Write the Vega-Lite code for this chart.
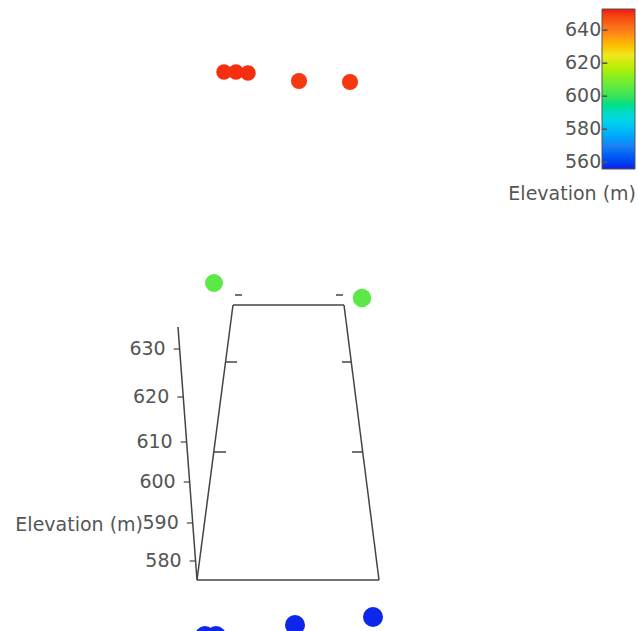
{
  "$schema": "https://vega.github.io/schema/vega-lite/v6.json",
  "width": 638,
  "height": 631,
  "padding": 0,
  "autosize": {"type": "none"},
  "background": "white",
  "config": {"view": {"stroke": null}, "font": "DejaVu Sans"},
  "datasets": {
    "points": [
      {"elevation": 651, "sx": 224, "sy": 72, "y_depth": 10},
      {"elevation": 651, "sx": 236, "sy": 72, "y_depth": 10},
      {"elevation": 651, "sx": 248, "sy": 73, "y_depth": 10},
      {"elevation": 650, "sx": 299, "sy": 81, "y_depth": 9},
      {"elevation": 650, "sx": 350, "sy": 82, "y_depth": 9},
      {"elevation": 605, "sx": 214, "sy": 283, "y_depth": 6},
      {"elevation": 605, "sx": 362, "sy": 298, "y_depth": 5},
      {"elevation": 557, "sx": 205, "sy": 636, "y_depth": 2},
      {"elevation": 557, "sx": 216, "sy": 636, "y_depth": 2},
      {"elevation": 557, "sx": 295, "sy": 625, "y_depth": 2},
      {"elevation": 557, "sx": 373, "sy": 617, "y_depth": 2}
    ],
    "frame": [
      {"part": "top", "sx": 233, "sy": 305, "sx2": 344, "sy2": 305},
      {"part": "left", "sx": 233, "sy": 305, "sx2": 197, "sy2": 580},
      {"part": "right", "sx": 344, "sy": 305, "sx2": 379, "sy2": 580},
      {"part": "bottom", "sx": 197, "sy": 580, "sx2": 379, "sy2": 580},
      {"part": "axis", "sx": 178, "sy": 327, "sx2": 197, "sy2": 580},
      {"part": "tick", "sx": 225.5, "sy": 362, "sx2": 237, "sy2": 362},
      {"part": "tick", "sx": 213.8, "sy": 452, "sx2": 226, "sy2": 452},
      {"part": "tick", "sx": 351.3, "sy": 362, "sx2": 342, "sy2": 362},
      {"part": "tick", "sx": 362.7, "sy": 452, "sx2": 352, "sy2": 452},
      {"part": "tick", "sx": 235, "sy": 295, "sx2": 242, "sy2": 295},
      {"part": "tick", "sx": 336, "sy": 295, "sx2": 343, "sy2": 295}
    ],
    "axisTicks": [
      {"label": "630", "sx": 179.7, "sy": 349},
      {"label": "620", "sx": 183.3, "sy": 397},
      {"label": "610", "sx": 186.7, "sy": 442},
      {"label": "600", "sx": 189.7, "sy": 482},
      {"label": "590", "sx": 192.8, "sy": 523},
      {"label": "580", "sx": 195.6, "sy": 561}
    ],
    "axisTitle": [
      {"label": "Elevation (m)", "sx": 143, "sy": 525}
    ]
  },
  "layer": [
    {
      "data": {"name": "frame"},
      "mark": {"type": "rule", "color": "#444444", "strokeWidth": 1.5},
      "encoding": {
        "x": {"field": "sx", "type": "quantitative", "scale": {"domain": [0, 638], "nice": false, "zero": false}, "axis": null},
        "y": {"field": "sy", "type": "quantitative", "scale": {"domain": [0, 631], "nice": false, "zero": false, "reverse": true}, "axis": null},
        "x2": {"field": "sx2"},
        "y2": {"field": "sy2"}
      }
    },
    {
      "data": {"name": "axisTicks"},
      "mark": {"type": "rule", "color": "#444444", "strokeWidth": 1.2, "x2Offset": -6},
      "encoding": {
        "x": {"field": "sx", "type": "quantitative"},
        "x2": {"field": "sx"},
        "y": {"field": "sy", "type": "quantitative"}
      }
    },
    {
      "data": {"name": "axisTicks"},
      "mark": {"type": "text", "align": "right", "baseline": "middle", "dx": -14, "fontSize": 19, "font": "DejaVu Sans", "color": "#555555"},
      "encoding": {
        "x": {"field": "sx", "type": "quantitative"},
        "y": {"field": "sy", "type": "quantitative"},
        "text": {"field": "label"}
      }
    },
    {
      "data": {"name": "axisTitle"},
      "mark": {"type": "text", "align": "right", "baseline": "middle", "fontSize": 19, "font": "DejaVu Sans", "color": "#555555"},
      "encoding": {
        "x": {"field": "sx", "type": "quantitative"},
        "y": {"field": "sy", "type": "quantitative"},
        "text": {"field": "label"}
      }
    },
    {
      "data": {"name": "points"},
      "mark": {"type": "circle", "opacity": 1},
      "encoding": {
        "x": {"field": "sx", "type": "quantitative"},
        "y": {"field": "sy", "type": "quantitative"},
        "size": {"field": "y_depth", "type": "quantitative", "scale": {"domain": [2, 10], "range": [400, 240]}, "legend": null},
        "color": {
          "field": "elevation",
          "type": "quantitative",
          "scale": {
            "domain": [556, 653],
            "range": ["#1a1ae8", "#2080f5", "#10d0f0", "#20e060", "#80f020", "#f0e820", "#ff8020", "#f01010"]
          },
          "legend": {
            "title": "Elevation (m)",
            "orient": "none",
            "legendX": 508,
            "legendY": 9,
            "direction": "vertical",
            "gradientLength": 160,
            "gradientThickness": 33,
            "gradientStrokeColor": "#555555",
            "gradientStrokeWidth": 1,
            "values": [560, 580, 600, 620, 640],
            "labelExpr": "datum.label + '-'",
            "labelFont": "DejaVu Sans",
            "labelFontSize": 19,
            "labelColor": "#555555",
            "labelOffset": -70,
            "labelAlign": "right",
            "titleOrient": "bottom",
            "titleAnchor": "end",
            "titleAlign": "right",
            "titleFont": "DejaVu Sans",
            "titleFontSize": 19,
            "titleFontWeight": "normal",
            "titleColor": "#555555",
            "titlePadding": 13
          }
        }
      }
    }
  ]
}
